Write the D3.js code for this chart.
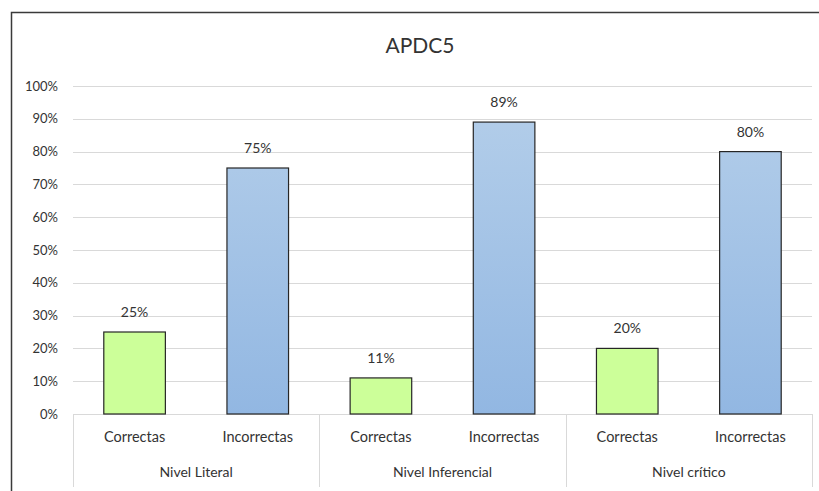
<!DOCTYPE html>
<html><head><meta charset="utf-8">
<script src="https://cdn.jsdelivr.net/npm/d3@7"></script>
<style>body{margin:0;background:#fff}svg{display:block}text{font-family:Lato,"Open Sans",sans-serif;fill:#333}</style>
</head><body>
<svg id="c" width="819" height="491"></svg>
<script>
const title = "APDC5";
const groups = ["Nivel Literal", "Nivel Inferencial", "Nivel crítico"];
const subs = ["Correctas", "Incorrectas"];
const correctas = [0.25, 0.11, 0.20];
const incorrectas = [0.75, 0.89, 0.80];
const yTicks = [0,0.1,0.2,0.3,0.4,0.5,0.6,0.7,0.8,0.9,1.0];

(function(){
const svg = d3.select("#c");
const W=819,H=491;
const pL=73,pR=812,pT=86,pB=414;

// frame
svg.append("path").attr("d",`M11.5,${H} V12.5 H${W}`).attr("fill","none").attr("stroke","#3a3a3a").attr("stroke-width",1.5);

const defs = svg.append("defs");
const gr = defs.append("linearGradient").attr("id","blue").attr("x1",0).attr("x2",0).attr("gradientUnits","userSpaceOnUse")
  .attr("y1",pT).attr("y2",pB);
gr.append("stop").attr("offset","0%").attr("stop-color","#b5cfea");
gr.append("stop").attr("offset","100%").attr("stop-color","#92b7e2");

const y = d3.scaleLinear().domain([0,1]).range([pB,pT]);
const x0 = d3.scaleBand().domain(groups).range([pL,pR]).paddingInner(0).paddingOuter(0);
const x1 = d3.scaleBand().domain(subs).range([0,x0.bandwidth()]).padding(0);

// gridlines
svg.append("g").selectAll("line").data(yTicks).join("line")
  .attr("x1",pL).attr("x2",pR).attr("y1",d=>Math.round(y(d))+0.5).attr("y2",d=>Math.round(y(d))+0.5)
  .attr("stroke","#d9d9d9").attr("stroke-width",1);

// y axis labels
const yAxis = d3.axisLeft(y).tickValues(yTicks).tickFormat(d3.format(".0%")).tickSize(0).tickPadding(0);
const ya = svg.append("g").attr("transform",`translate(58,0)`).call(yAxis);
ya.select(".domain").remove();
ya.selectAll("text").attr("font-size","13px").attr("fill","#333").style("font-family","Lato,'Open Sans',sans-serif");

// bars
const data = [];
groups.forEach((g,i)=>{
  data.push({g, s:subs[0], v:correctas[i]});
  data.push({g, s:subs[1], v:incorrectas[i]});
});
const bw = x1.bandwidth()*0.5;
svg.append("g").selectAll("rect").data(data).join("rect")
  .attr("x",d=>x0(d.g)+x1(d.s)+x1.bandwidth()/2-bw/2)
  .attr("y",d=>y(d.v))
  .attr("width",bw)
  .attr("height",d=>y(0)-y(d.v))
  .attr("fill",d=>d.s==="Correctas"?"#ccff99":"url(#blue)")
  .attr("stroke","#262626").attr("stroke-width",1.2);

// value labels
svg.append("g").selectAll("text").data(data).join("text")
  .attr("x",d=>x0(d.g)+x1(d.s)+x1.bandwidth()/2)
  .attr("y",d=>y(d.v)-15)
  .attr("text-anchor","middle").attr("font-size","14px")
  .text(d=>d3.format(".0%")(d.v));

// category axis box
const cat = svg.append("g");
const bounds = [pL, ...groups.map(g=>x0(g)+x0.bandwidth())];
cat.selectAll("line").data(bounds).join("line")
  .attr("x1",d=>Math.round(d)+0.5).attr("x2",d=>Math.round(d)+0.5)
  .attr("y1",pB).attr("y2",487).attr("stroke","#d9d9d9");
cat.append("g").selectAll("text").data(data).join("text")
  .attr("x",d=>x0(d.g)+x1(d.s)+x1.bandwidth()/2)
  .attr("y",442).attr("text-anchor","middle").attr("font-size","14.5px")
  .text(d=>d.s);
cat.append("g").selectAll("text").data(groups).join("text")
  .attr("x",d=>x0(d)+x0.bandwidth()/2)
  .attr("y",477).attr("text-anchor","middle").attr("font-size","14px")
  .text(d=>d);

// title
svg.append("text").attr("x",420).attr("y",53).attr("text-anchor","middle").attr("font-size","21px").attr("fill","#222").text(title);
})();
</script>
</body></html>
